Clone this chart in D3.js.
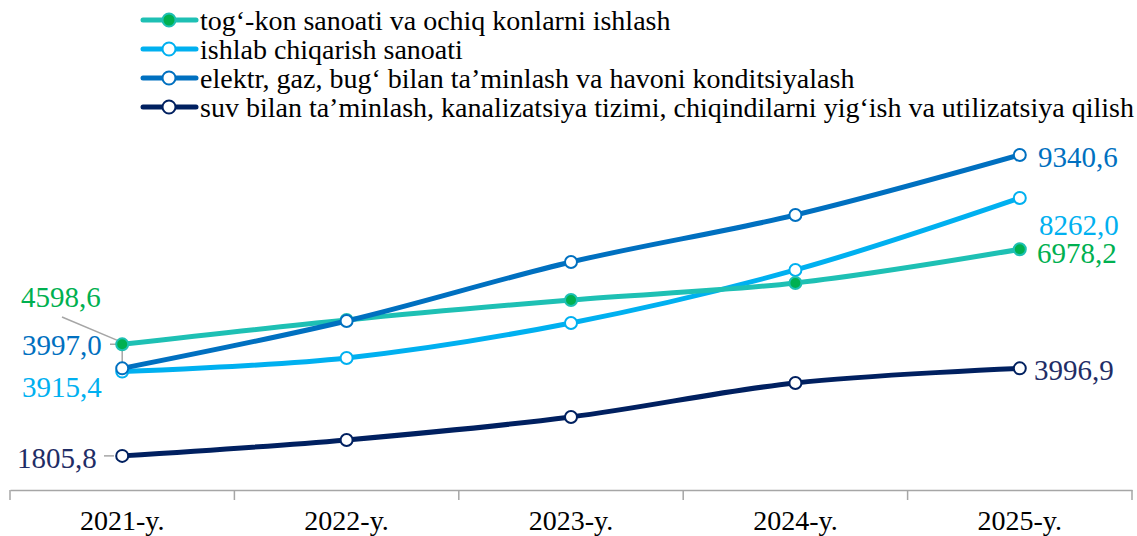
<!DOCTYPE html>
<html>
<head>
<meta charset="utf-8">
<script src="https://cdn.jsdelivr.net/npm/d3@7"></script>
<style>
  body { margin: 0; background: #fff; }
  svg { display: block; font-family: "Liberation Serif", "Times New Roman", serif; }
</style>
</head>
<body>
<div id="chart"></div>
<script>
// data
var years = ["2021-y.", "2022-y.", "2023-y.", "2024-y.", "2025-y."];
var togKon = [4598.6, 5209, 5710, 6136, 6978.2];
var ishlab = [3915.4, 4258, 5134, 6461, 8262.0];
var elektr = [3997.0, 5184, 6661, 7837, 9340.6];
var suv = [1805.8, 2205, 2781, 3632, 3996.9];
var seriesNames = [
  "tog‘-kon sanoati va ochiq konlarni ishlash",
  "ishlab chiqarish sanoati",
  "elektr, gaz, bug‘ bilan ta’minlash va havoni konditsiyalash",
  "suv bilan ta’minlash, kanalizatsiya tizimi, chiqindilarni yig‘ish va utilizatsiya qilish"
];

var w = 1137, h = 536;
var serif = "Liberation Serif";

var series = [
  {name: seriesNames[0], values: togKon, line: "#1ec0b4", fill: "#00b050", stroke: "#1ec0b4", label: "#00b050"},
  {name: seriesNames[1], values: ishlab, line: "#00b0f0", fill: "#fff", stroke: "#00b0f0", label: "#00b0f0"},
  {name: seriesNames[2], values: elektr, line: "#0070c0", fill: "#fff", stroke: "#0070c0", label: "#0070c0"},
  {name: seriesNames[3], values: suv, line: "#002060", fill: "#fff", stroke: "#002060", label: "#1f2d66"}
];

var svg = d3.select("#chart").append("svg")
    .attr("width", w)
    .attr("height", h);

var x = d3.scaleBand().domain(years).range([10, 1132]);
var y = d3.scaleLinear().domain([0, 10000]).range([528, 128.6]);
var cx = function(i){ return x(years[i]) + x.bandwidth() / 2; };

// x axis
var axisG = svg.append("g").attr("transform", "translate(0,490)");
axisG.call(d3.axisBottom(x).tickSize(0));
axisG.select(".domain").attr("stroke", "#a6a6a6").attr("stroke-width", 1.5);
axisG.selectAll(".tick text")
    .attr("font-family", serif)
    .attr("font-size", 28)
    .attr("fill", "#000")
    .attr("y", 40)
    .attr("dy", null);
var bounds = [10].concat(years.map(function(d){ return x(d) + x.bandwidth(); }));
axisG.selectAll("line.sep").data(bounds).enter()
    .append("line")
    .attr("x1", function(d){ return d; }).attr("x2", function(d){ return d; })
    .attr("y1", 0).attr("y2", 10)
    .attr("stroke", "#a6a6a6").attr("stroke-width", 1.5);

// leader lines
var lead = svg.append("g").attr("stroke", "#a6a6a6").attr("stroke-width", 1.5).attr("fill", "none");
lead.append("path").attr("d", "M62,317L" + cx(0) + "," + (y(togKon[0]) - 2));
lead.append("path").attr("d", "M110," + y(togKon[0]) + "H" + cx(0) + "V" + y(elektr[0]));
lead.append("path").attr("d", "M104," + y(suv[0]) + "H114");

// lines
var line = d3.line()
    .x(function(d, i){ return cx(i); })
    .y(function(d){ return y(d); })
    .curve(d3.curveCatmullRom.alpha(0.5));

var order = [3, 1, 0, 2];
order.forEach(function(k){
  var s = series[k];
  var g = svg.append("g");
  g.append("path")
    .attr("d", line(s.values))
    .attr("fill", "none")
    .attr("stroke", s.line)
    .attr("stroke-width", 5)
    .attr("stroke-linecap", "round");
  g.selectAll("circle").data(s.values).enter()
    .append("circle")
    .attr("cx", function(d, i){ return cx(i); })
    .attr("cy", function(d){ return y(d); })
    .attr("r", 6)
    .attr("fill", s.fill)
    .attr("stroke", s.stroke)
    .attr("stroke-width", 2);
});

// data labels (first and last)
var fmt = function(v){ return v.toFixed(1).replace(".", ","); };
var labels = [
  {v: togKon[0], x: 21, y: 307, c: series[0].label},
  {v: elektr[0], x: 22, y: 355, c: series[2].label},
  {v: ishlab[0], x: 22, y: 397, c: series[1].label},
  {v: suv[0], x: 17, y: 468, c: series[3].label},
  {v: elektr[4], x: 1038, y: 167, c: series[2].label},
  {v: ishlab[4], x: 1039, y: 235, c: series[1].label},
  {v: togKon[4], x: 1037, y: 263, c: series[0].label},
  {v: suv[4], x: 1034, y: 380, c: series[3].label}
];
svg.append("g").selectAll("text").data(labels).enter()
    .append("text")
    .attr("x", function(d){ return d.x; })
    .attr("y", function(d){ return d.y; })
    .attr("font-family", serif)
    .attr("font-size", 29)
    .attr("fill", function(d){ return d.c; })
    .text(function(d){ return fmt(d.v); });

// legend
var legend = svg.append("g");
var rowY = [20, 49, 78, 107];
series.forEach(function(s, i){
  var g = legend.append("g").attr("transform", "translate(0," + rowY[i] + ")");
  g.append("line").attr("x1", 143).attr("x2", 196).attr("y1", 0).attr("y2", 0)
    .attr("stroke", s.line).attr("stroke-width", 5).attr("stroke-linecap", "round");
  g.append("circle").attr("cx", 169).attr("cy", 0).attr("r", 6.5)
    .attr("fill", s.fill).attr("stroke", s.stroke).attr("stroke-width", 2);
  g.append("text").attr("x", 200).attr("y", 10)
    .attr("font-family", serif)
    .attr("font-size", 28)
    .attr("fill", "#000")
    .text(s.name);
});
</script>
</body>
</html>
